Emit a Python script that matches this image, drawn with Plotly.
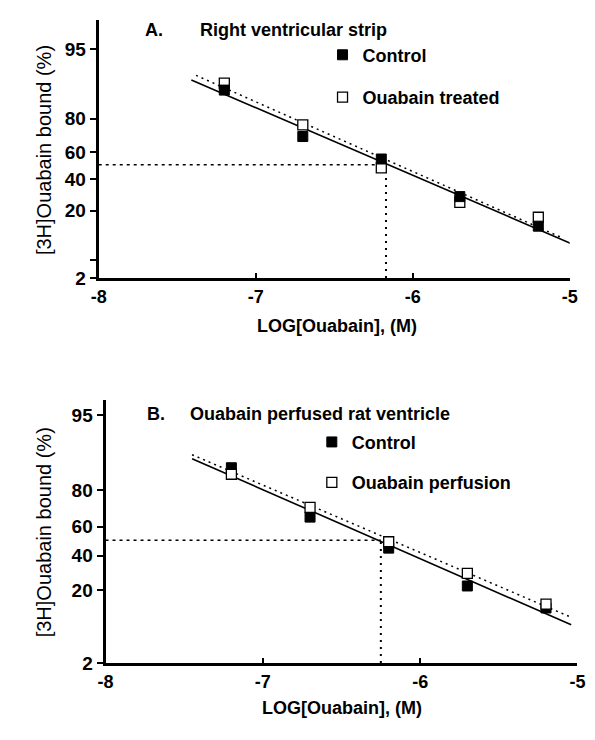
import numpy as np
import plotly.graph_objects as go

# ---------------- data ----------------
LOG_OUABAIN = [-7.2, -6.7, -6.2, -5.7, -5.2]

A_CONTROL = [86.2, 69.4, 54.6, 28.9, 15.3]
A_TREATED = [87.7, 76.3, 47.8, 25.2, 18.0]
B_CONTROL = [84.5, 65.3, 44.9, 22.4, 15.0]
B_PERFUSION = [83.2, 70.6, 49.0, 29.7, 16.1]

# fitted regression lines (end points, log dose / % bound)
A_CONTROL_FIT_X = [-7.41, -4.99]
A_CONTROL_FIT_Y = [88.4, 10.0]
A_TREATED_FIT_X = [-7.38, -5.04]
A_TREATED_FIT_Y = [89.4, 11.6]
B_CONTROL_FIT_X = [-7.45, -5.04]
B_CONTROL_FIT_Y = [86.3, 10.3]
B_PERFUSION_FIT_X = [-7.45, -5.04]
B_PERFUSION_FIT_Y = [87.1, 12.4]

# IC50 read-off (log dose at 50 % bound)
A_IC50 = -6.17
B_IC50 = -6.25
HALF = 50

X_TICKS = [-8, -7, -6, -5]
X_TICK_TEXT = ["-8", "-7", "-6", "-5"]
Y_TICKS_PCT = [2, 5, 20, 40, 60, 80, 95]
Y_TICK_TEXT_A = ["2", "", "20", "40", "60", "80", "95"]
Y_TICKS_PCT_B = [2, 20, 40, 60, 80, 95]
Y_TICK_TEXT_B = ["2", "20", "40", "60", "80", "95"]

# probability-style scale used on the vertical axis (percent -> axis units)
SCALE_PCT = [2, 5, 20, 40, 50, 60, 80, 95]
SCALE_UNITS = [0, 1.8, 6.8, 10.0, 11.45, 12.7, 16.1, 23.1]


def to_axis(p):
    return np.interp(np.asarray(p, dtype=float), SCALE_PCT, SCALE_UNITS)


FONT = "Liberation Sans, Arial, sans-serif"
W, H = 595, 740

fig = go.Figure()

# ---------- panel A ----------
fig.add_trace(go.Scatter(x=[X_TICKS[0], A_IC50], y=to_axis([HALF, HALF]), mode="lines",
                         line=dict(color="black", width=1.5, dash="3px,4px"),
                         showlegend=False, xaxis="x", yaxis="y", hoverinfo="skip"))
fig.add_trace(go.Scatter(x=[A_IC50, A_IC50], y=to_axis([SCALE_PCT[0], HALF]), mode="lines",
                         line=dict(color="black", width=2, dash="2px,5px"),
                         showlegend=False, xaxis="x", yaxis="y", hoverinfo="skip"))
fig.add_trace(go.Scatter(x=A_TREATED_FIT_X, y=to_axis(A_TREATED_FIT_Y), mode="lines",
                         line=dict(color="black", width=1.5, dash="2px,4px"),
                         showlegend=False, xaxis="x", yaxis="y"))
fig.add_trace(go.Scatter(x=A_CONTROL_FIT_X, y=to_axis(A_CONTROL_FIT_Y), mode="lines",
                         line=dict(color="black", width=1.6),
                         showlegend=False, xaxis="x", yaxis="y"))
fig.add_trace(go.Scatter(x=LOG_OUABAIN, y=to_axis(A_TREATED), mode="markers", name="Ouabain treated",
                         marker=dict(symbol="square", size=10, color="white",
                                     line=dict(color="black", width=1.3)),
                         legend="legend", legendgroup="a2", legendrank=2,
                         xaxis="x", yaxis="y"))
fig.add_trace(go.Scatter(x=LOG_OUABAIN, y=to_axis(A_CONTROL), mode="markers", name="Control",
                         marker=dict(symbol="square", size=10, color="black",
                                     line=dict(color="black", width=1)),
                         legend="legend", legendgroup="a1", legendrank=1,
                         xaxis="x", yaxis="y"))

# ---------- panel B ----------
fig.add_trace(go.Scatter(x=[X_TICKS[0], B_IC50], y=to_axis([HALF, HALF]), mode="lines",
                         line=dict(color="black", width=1.5, dash="3px,4px"),
                         showlegend=False, xaxis="x2", yaxis="y2", hoverinfo="skip"))
fig.add_trace(go.Scatter(x=[B_IC50, B_IC50], y=to_axis([SCALE_PCT[0], HALF]), mode="lines",
                         line=dict(color="black", width=2, dash="2px,5px"),
                         showlegend=False, xaxis="x2", yaxis="y2", hoverinfo="skip"))
fig.add_trace(go.Scatter(x=B_PERFUSION_FIT_X, y=to_axis(B_PERFUSION_FIT_Y), mode="lines",
                         line=dict(color="black", width=1.5, dash="2px,4px"),
                         showlegend=False, xaxis="x2", yaxis="y2"))
fig.add_trace(go.Scatter(x=B_CONTROL_FIT_X, y=to_axis(B_CONTROL_FIT_Y), mode="lines",
                         line=dict(color="black", width=1.6),
                         showlegend=False, xaxis="x2", yaxis="y2"))
fig.add_trace(go.Scatter(x=LOG_OUABAIN, y=to_axis(B_CONTROL), mode="markers", name="Control",
                         marker=dict(symbol="square", size=10, color="black",
                                     line=dict(color="black", width=1)),
                         legend="legend2", legendgroup="b1", legendrank=1,
                         xaxis="x2", yaxis="y2"))
fig.add_trace(go.Scatter(x=LOG_OUABAIN, y=to_axis(B_PERFUSION), mode="markers", name="Ouabain perfusion",
                         marker=dict(symbol="square", size=10, color="white",
                                     line=dict(color="black", width=1.3)),
                         legend="legend2", legendgroup="b2", legendrank=2,
                         xaxis="x2", yaxis="y2"))

xcommon = dict(range=[-8, -5], tickvals=X_TICKS, ticktext=X_TICK_TEXT, showgrid=False,
               zeroline=False, showline=True, linecolor="black", linewidth=3,
               ticks="inside", ticklen=5, tickwidth=2, tickcolor="black",
               ticklabelstandoff=0,
               tickfont=dict(family=FONT, size=18, color="black", weight="bold"))
ycommon = dict(showgrid=False, zeroline=False, showline=True, linecolor="black", linewidth=3,
               ticks="outside", ticklen=6, tickwidth=2, tickcolor="black",
               tickfont=dict(family=FONT, size=19, color="black", weight="bold"))

fig.update_layout(
    width=W, height=H,
    margin=dict(l=0, r=0, t=0, b=0),
    paper_bgcolor="white", plot_bgcolor="white",
    showlegend=True,
    xaxis=dict(domain=[85 / W, 569 / W], anchor="y", **xcommon),
    yaxis=dict(domain=[1 - 274 / H, 1 - 12 / H], anchor="x", range=[0, 26.1],
               tickvals=to_axis(Y_TICKS_PCT).tolist(), ticktext=Y_TICK_TEXT_A, **ycommon),
    xaxis2=dict(domain=[92 / W, 577 / W], anchor="y2", **xcommon),
    yaxis2=dict(domain=[1 - 665 / H, 1 - 398 / H], anchor="x2", range=[0, 24.5],
                tickvals=to_axis(Y_TICKS_PCT_B).tolist(), ticktext=Y_TICK_TEXT_B, **ycommon),
    legend=dict(x=315 / W, y=1 - 29 / H, xanchor="left", yanchor="top",
                bgcolor="rgba(0,0,0,0)", tracegroupgap=16,
                font=dict(family=FONT, size=18, color="black", weight="bold")),
    legend2=dict(x=304 / W, y=1 - 422 / H, xanchor="left", yanchor="top",
                 bgcolor="rgba(0,0,0,0)", tracegroupgap=14,
                 font=dict(family=FONT, size=18, color="black", weight="bold")),
)

ann_font_b = dict(family=FONT, size=18, color="black", weight="bold")
ann_font_r = dict(family=FONT, size=20, color="black")
fig.add_annotation(text="A.", x=130 / W, y=1 - 22 / H, xref="paper", yref="paper",
                   xanchor="left", yanchor="middle", showarrow=False, font=ann_font_b)
fig.add_annotation(text="Right ventricular strip", x=187 / W, y=1 - 22 / H, xref="paper", yref="paper",
                   xanchor="left", yanchor="middle", showarrow=False, font=ann_font_b)
fig.add_annotation(text="B.", x=133 / W, y=1 - 412 / H, xref="paper", yref="paper",
                   xanchor="left", yanchor="middle", showarrow=False, font=ann_font_b)
fig.add_annotation(text="Ouabain perfused rat ventricle", x=177 / W, y=1 - 412 / H, xref="paper", yref="paper",
                   xanchor="left", yanchor="middle", showarrow=False, font=ann_font_b)
for yc in (144, 532):
    fig.add_annotation(text="[3H]Ouabain bound (%)", x=29 / W, y=1 - yc / H, xref="paper", yref="paper",
                       xanchor="center", yanchor="middle", textangle=-90, showarrow=False, font=ann_font_r)
for xc, yc in ((330, 323), (335, 711)):
    fig.add_annotation(text="LOG[Ouabain], (M)", x=xc / W, y=1 - yc / H, xref="paper", yref="paper",
                       xanchor="center", yanchor="middle", showarrow=False, font=ann_font_b)

fig.write_html("out.html")
